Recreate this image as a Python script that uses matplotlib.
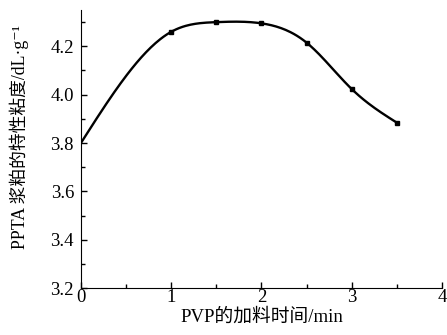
import numpy as np
import matplotlib
matplotlib.use("Agg")
import matplotlib.pyplot as plt
from matplotlib.ticker import MultipleLocator

plt.rcParams['font.family'] = ['Liberation Serif', 'Noto Sans CJK SC', 'DejaVu Sans']

# PVP feeding time (min) vs intrinsic viscosity of PPTA slurry
time_min = [0, 1, 1.5, 2, 2.5, 3, 3.5]
viscosity = [3.80, 4.26, 4.30, 4.295, 4.215, 4.023, 3.884]


def smooth(x, y, n=200):
    # natural cubic spline through the points, for drawing the curve only
    x = np.asarray(x, float)
    y = np.asarray(y, float)
    k = len(x)
    h = np.diff(x)
    A = np.zeros((k, k))
    b = np.zeros(k)
    A[0, 0] = A[-1, -1] = 1
    for i in range(1, k - 1):
        A[i, i - 1] = h[i - 1]
        A[i, i] = 2 * (h[i - 1] + h[i])
        A[i, i + 1] = h[i]
        b[i] = 6 * ((y[i + 1] - y[i]) / h[i] - (y[i] - y[i - 1]) / h[i - 1])
    M = np.linalg.solve(A, b)
    xs = np.linspace(x[0], x[-1], n)
    idx = np.clip(np.searchsorted(x, xs) - 1, 0, k - 2)
    x0, x1 = x[idx], x[idx + 1]
    hh = x1 - x0
    t0, t1 = x1 - xs, xs - x0
    ys = (M[idx] * t0**3 + M[idx + 1] * t1**3) / (6 * hh) \
        + (y[idx] / hh - M[idx] * hh / 6) * t0 \
        + (y[idx + 1] / hh - M[idx + 1] * hh / 6) * t1
    return xs, ys


fig = plt.figure(figsize=(4.47, 3.35), dpi=100)
ax = fig.add_axes([0.181, 0.140, 0.808, 0.830])

xs, ys = smooth(time_min, viscosity)
ax.plot(xs, ys, color='black', lw=1.7)
ax.plot(time_min[1:], viscosity[1:], 's', color='black', ms=3.5)

ax.set_xlim(0, 4)
ax.set_ylim(3.2, 4.35)
ax.xaxis.set_major_locator(MultipleLocator(1))
ax.xaxis.set_minor_locator(MultipleLocator(0.5))
ax.yaxis.set_major_locator(MultipleLocator(0.2))
ax.yaxis.set_minor_locator(MultipleLocator(0.1))
ax.yaxis.set_major_formatter(matplotlib.ticker.FormatStrFormatter('%.1f'))
ax.tick_params(which='both', direction='in', labelsize=13.5, width=1)
ax.tick_params(which='major', length=4)
ax.tick_params(which='minor', length=3)
ax.tick_params(axis='y', pad=5)
ax.tick_params(axis='x', pad=1)
for s in ['top', 'right']:
    ax.spines[s].set_visible(False)

ax.set_xlabel('PVP的加料时间/min', fontsize=13.5, labelpad=1)
ax.set_ylabel('PPTA 浆粕的特性粘度/dL·g⁻¹', fontsize=12.8, va='center')
ax.yaxis.set_label_coords(-0.17, 0.545)

fig.savefig('out.png', dpi=100)
